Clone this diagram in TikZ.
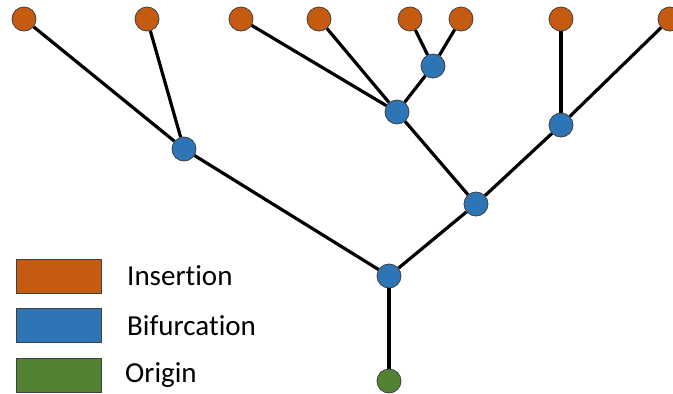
\documentclass[tikz,border=0pt]{standalone}
\usepackage{fontspec}
\setmainfont[Ligatures=NoCommon]{Carlito}
\definecolor{ins}{HTML}{C55A11}
\definecolor{bif}{HTML}{2E75B6}
\definecolor{ori}{HTML}{548235}
\definecolor{outl}{HTML}{404040}
\begin{document}
\begin{tikzpicture}[x=1pt,y=-1pt,
  dot/.style={circle,draw=outl,line width=0.8pt,minimum size=24pt,inner sep=0pt},
  insn/.style={dot,fill=ins},
  bifn/.style={dot,fill=bif},
  orin/.style={dot,fill=ori},
  edge/.style={line width=3.2pt,black},
  legbox/.style={draw=outl,line width=0.8pt,minimum width=85pt,minimum height=34pt,inner sep=0pt},
  legtext/.style={anchor=west,inner sep=0pt,font=\fontsize{29}{35}\selectfont}]
\useasboundingbox (0,0) rectangle (673,394);
\clip (0,0) rectangle (673,394);
\node[insn] (i1) at (24,19) {};
\node[insn] (i2) at (147,19) {};
\node[insn] (i3) at (241,19) {};
\node[insn] (i4) at (319,19) {};
\node[insn] (i5) at (410,19) {};
\node[insn] (i6) at (461,19) {};
\node[insn] (i7) at (561,19) {};
\node[insn] (i8) at (670,19) {};
\node[bifn] (b1) at (184,149) {};
\node[bifn] (b2) at (397,112) {};
\node[bifn] (b3) at (433,66) {};
\node[bifn] (b4) at (561,125) {};
\node[bifn] (b5) at (476,204) {};
\node[bifn] (b6) at (389,276) {};
\node[orin] (o) at (389,381) {};
\draw[edge] (i1) -- (b1);
\draw[edge] (i2) -- (b1);
\draw[edge] (b1) -- (b6);
\draw[edge] (i3) -- (b2);
\draw[edge] (i4) -- (b2);
\draw[edge] (i5) -- (b3);
\draw[edge] (i6) -- (b3);
\draw[edge] (b3) -- (b2);
\draw[edge] (b2) -- (b5);
\draw[edge] (i7) -- (b4);
\draw[edge] (i8) -- (b4);
\draw[edge] (b4) -- (b5);
\draw[edge] (b5) -- (b6);
\draw[edge] (b6) -- (o);
\node[legbox,fill=ins] (l1) at (58.5,276) {};
\node[legbox,fill=bif] (l2) at (58.5,325.5) {};
\node[legbox,fill=ori] (l3) at (58.5,375) {};
\node[legtext] (t1) at (127,276) {Insertion};
\node[legtext] (t2) at (127,325.5) {Bifurcation};
\node[legtext] (t3) at (125,375) {Origin};
\end{tikzpicture}
\end{document}
